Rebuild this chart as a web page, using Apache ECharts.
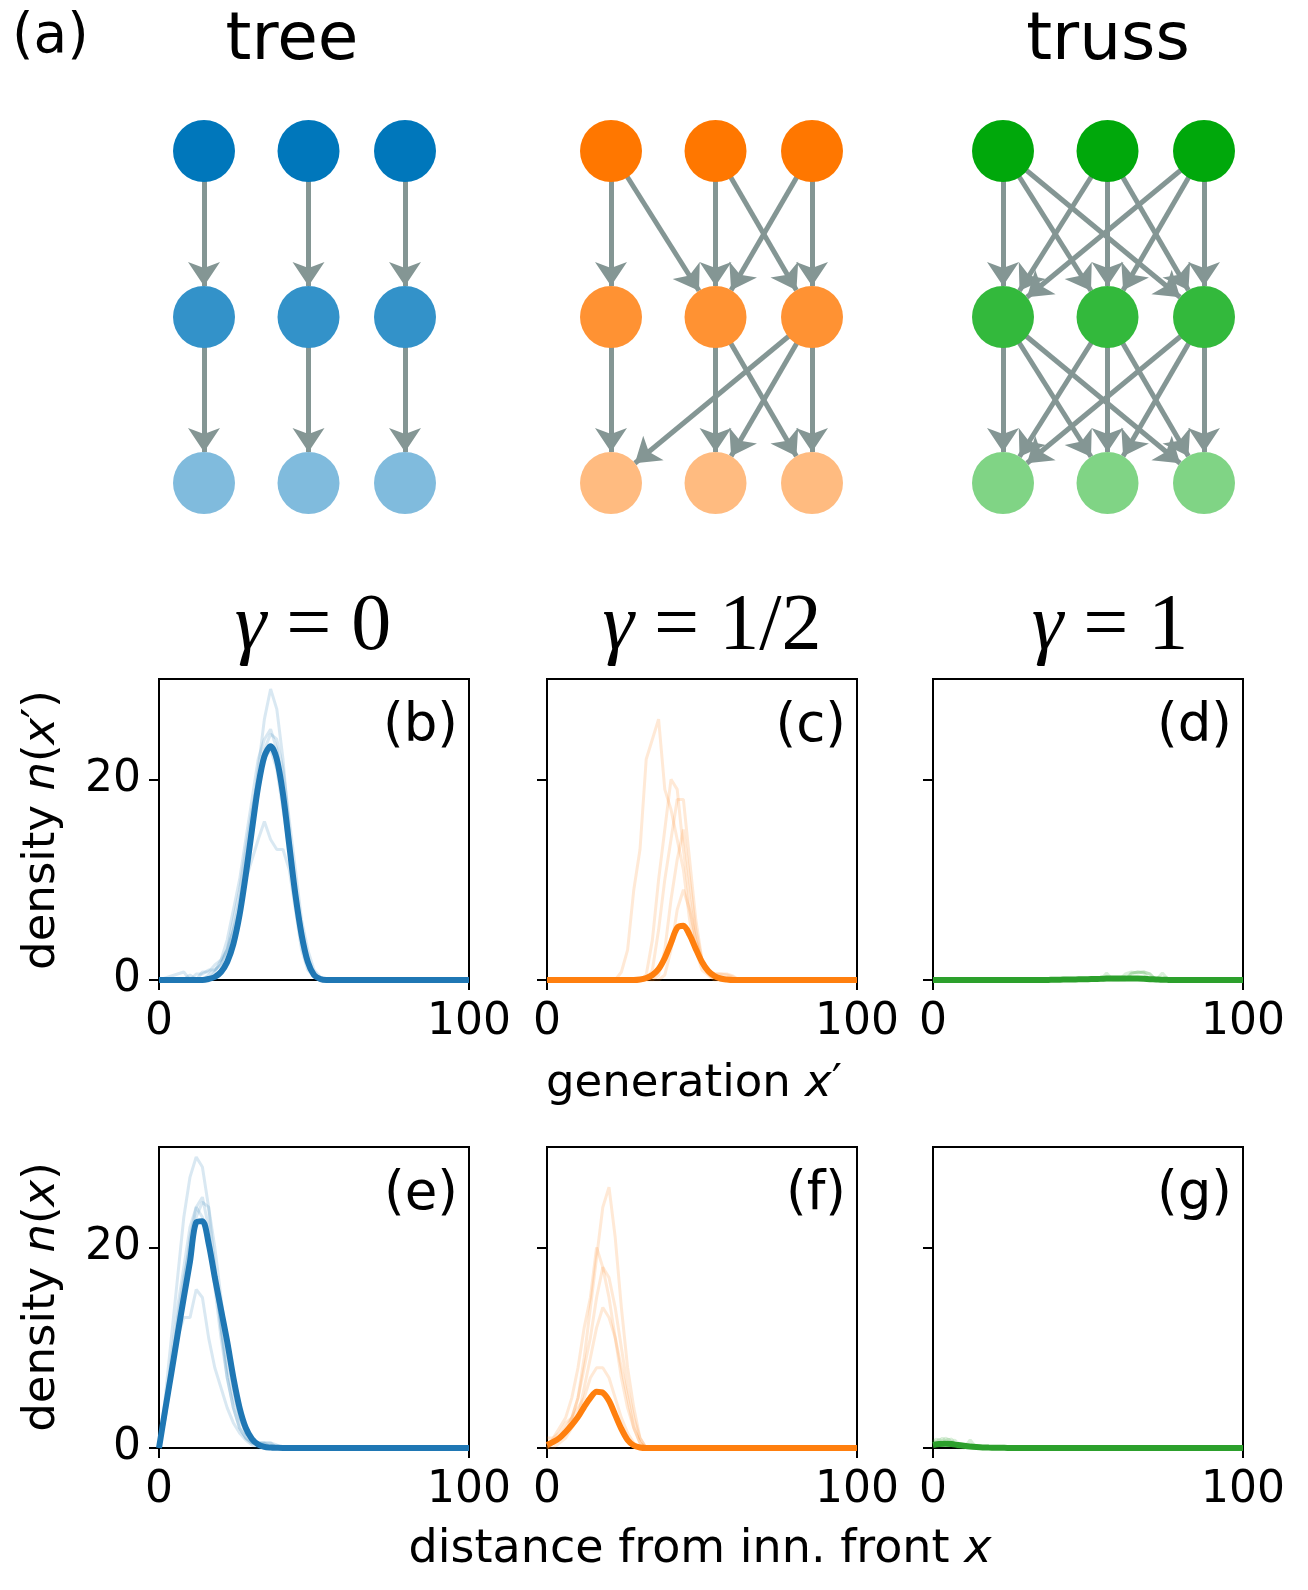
<!DOCTYPE html>
<html><head><meta charset="utf-8">
<script src="https://cdn.jsdelivr.net/npm/echarts@6/dist/echarts.min.js"></script>
<style>html,body{margin:0;padding:0;background:#fff}#c{width:1308px;height:1590px}</style>
</head><body><div id="c"></div>
<script>
// ---------- DATA ----------
const xsMain = [0,2,4,6,8,10,12,14,16,18,20,22,24,26,28,30,32,34,36,38,40,42,44,46,48,50,52,54,56,58,60,62,64,66,68,70,72,74,76,78,80,82,84,86,88,90,92,94,96,98,100];
const mainB = [0,0,0,0,0,0,0,0, 0.1,0.3,0.8,1.8,3.6,6.5,10.5,15.0,19.3,22.3,23.3,22.0,18.5,13.5,8.5,4.5,1.8,0.5,0.1, 0,0,0,0,0,0,0,0,0,0,0,0, 0,0,0,0,0,0,0,0,0,0,0,0];
const mainC = [0,0,0,0,0,0,0,0,0,0,0,0,0,0,0, 0.05,0.2,0.5,1.1,2.2,3.7,5.2,5.4,4.5,3.1,1.8,0.9,0.4,0.15,0.05, 0,0,0,0,0,0,0,0,0,0,0, 0,0,0,0,0,0,0,0,0,0];
const mainD = [0,0,0,0,0,0,0,0,0,0,0,0,0,0,0,0,0,0,0, 0.02,0.03,0.04,0.05,0.06,0.07,0.08,0.1,0.12,0.14,0.15,0.16,0.16,0.16,0.15,0.12,0.08,0.05,0.02,0.01, 0,0,0,0,0,0,0,0,0,0,0,0];
const mainE = [0,3.8,7.5,11.3,15.0,18.6,22.5,22.6,20.4,17.0,13.8,10.6,7.0,4.0,2.0,0.9,0.35,0.12,0.05,0.02, 0,0,0,0,0,0,0,0,0,0,0,0,0,0,0,0, 0,0,0,0,0,0,0,0,0,0,0,0,0,0,0];
const mainF = [0.3,0.6,1.0,1.6,2.3,3.1,4.1,5.0,5.6,5.5,4.7,3.3,1.9,0.8,0.25,0.05, 0,0,0,0,0,0,0,0,0,0,0,0,0,0,0,0,0,0, 0,0,0,0,0,0,0,0,0,0,0,0,0,0,0,0,0];
const mainG = [0.3,0.4,0.42,0.4,0.3,0.22,0.15,0.1,0.06,0.04,0.03,0.02,0.01, 0,0,0,0,0,0,0,0,0,0,0,0,0,0,0,0,0,0,0, 0,0,0,0,0,0,0,0,0,0,0,0,0,0,0,0,0,0,0];

const xsB = [0,8,10,12,14,16,18,20,22,24,26,28,30,32,34,36,38,40,42,44,46,48,50,52,54,100];
const fB1 = [0,0,0,0,0,0,0.3,1,2,4,7,11,16,21,26,29,27,22,15,8,4,1.5,0.5,0,0,0];
const fB2 = [0,0,0,0.6,0.6,1,1,1.6,3,5,7,10,12,14,15.8,14,13,13,11,7,3,1,0.3,0,0,0];
const fB3 = [0,0.8,0,0,0.8,0.8,1.5,2,4,7,10,14,18,22,24,25,23,19,14,9,5,2,0.8,0,0,0];
const fB4 = [0,0,0,0,0,0.5,1,1.5,3,5,8,12,16,20,23,24.5,24,21,16,11,6,3,1,0.3,0,0];
const fB5 = [0,0,0.5,0,0,0,0.8,2,3,6,9,13,17,20,22,23,21,17,13,8,4,2,0.5,0,0,0];

const xsC = [0,22,24,26,28,30,32,34,36,38,40,42,44,46,48,50,52,54,56,58,60,62,100];
const fC1 = [0,0,0.8,3,9,13,22,24,26,19,17,14,11,6,3,1,0.5,0,0,0,0,0,0];
const fC2 = [0,0,0,0,0,0,0.5,4,10,15,20,19,13,8,4,2,0.8,0.6,0.3,0,0,0,0];
const fC3 = [0,0,0,0,0,0,0,1,5,10,14,18,18,12,6,2,0.7,0.6,0.6,0.6,0.4,0,0];
const fC4 = [0,0,0,0,0,0,0,0,0.5,3,8,12,15,10,5,2,1,0.6,0.6,0.5,0.3,0,0];
const fC5 = [0,0,0,0,0,0,0,0,0,0.5,3,7,9,7,4,1.5,0.6,0,0,0,0,0,0];

const xsD = [0,52,54,56,58,60,62,64,66,68,70,72,74,76,78,100];
const fD1 = [0,0,0,0.7,0,0,0,0.7,0.8,0.7,0,0,0,0,0,0];
const fD2 = [0,0,0,0,0,0,0,0.6,0.8,0.8,0.6,0,0.7,0,0,0];
const fD3 = [0,0,0,0,0,0,0.6,0.8,0.7,0.8,0.6,0,0,0,0,0];

const xsE = [0,2,4,6,8,10,12,14,16,18,20,22,24,26,28,30,32,34,36,38,40,42,100];
const fE1 = [0,5,11,17,23,27,29,28,24,18,12,7,4,2,1,0.5,0.5,0.5,0,0,0,0,0];
const fE2 = [0,3,7,11,13,13,15.8,15,11,8,6,4,2.5,1.5,0.8,0.3,0,0,0,0,0,0,0];
const fE3 = [0,4,8,13,17,20,23,24.5,24,20,15,10,6,3,1.5,0.8,0.5,0.5,0.5,0.3,0,0,0];
const fE4 = [0,3,8,12,16,21,24,25,22,17,12,8,5,3,1.5,0.6,0.3,0,0,0,0,0,0];
const fE5 = [0,4,9,14,18,22,24,23,21,16,11,7,4,2,1,0.5,0.5,0.5,0.5,0,0,0,0];

const xsF = [0,2,4,6,8,10,12,14,16,18,20,22,24,26,28,30,32,100];
const fF1 = [0,0.5,1,2,3,5,9,14,19,24,26,21,14,8,4,1,0,0];
const fF2 = [0,1,2,3,5,8,12,15,20,18,15,11,7,4,2,0.5,0,0];
const fF3 = [0,0.5,1,1.5,3,5,8,11,15,18,17,14,10,6,3,1,0,0];
const fF4 = [0,0,0.5,1,2,3,6,9,12,14,13,11,8,5,2,0.5,0,0];
const fF5 = [1,1,1.5,2.5,3,4,5,7,8,8,7,5,3,1.5,0.5,0,0,0];

const xsG = [0,1,2,3,4,5,6,7,8,10,12,14,100];
const fG1 = [0.8,0.5,0.9,0.6,1.0,0.8,0.9,0.3,0,0,0.8,0,0];
const fG2 = [0.6,0.9,0.7,1.0,0.7,0.9,0.6,0.8,0.5,0,0,0,0];

const xTicks = [0,100];
const yTicks = [0,20];
const panelLetters = ['(b)','(c)','(d)','(e)','(f)','(g)'];
const graphTitles = ['tree','truss'];

// graph structure: node = [column, layer]
const columns = [0,1.04,2];
const layers = [0,1,2];
const treeLinks = [[0,0],[1,1],[2,2]];
const halfLinksTop = [[0,0],[0,1],[1,1],[1,2],[2,1],[2,2]];
const halfLinksBot = [[0,0],[1,1],[1,2],[2,0],[2,1],[2,2]];
const fullLinks = [[0,0],[0,1],[0,2],[1,0],[1,1],[1,2],[2,0],[2,1],[2,2]];

// ---------- STYLE / LAYOUT ----------
const FONT = 'DejaVu Sans';
const blue = '#1f77b4', orange = '#ff7f0e', green = '#2ca02c';
const nodeTop = ['#0077bb','#ff7700','#00a80b'];
const layerAlpha = [1, 0.8, 0.5];
const edgeColor = '#849694';
function mix(hex, a){
  const r=parseInt(hex.slice(1,3),16), g=parseInt(hex.slice(3,5),16), b=parseInt(hex.slice(5,7),16);
  const f=v=>Math.round(v*a+255*(1-a));
  return 'rgb('+f(r)+','+f(g)+','+f(b)+')';
}
function rgba(hex,a){
  const r=parseInt(hex.slice(1,3),16), g=parseInt(hex.slice(3,5),16), b=parseInt(hex.slice(5,7),16);
  return 'rgba('+r+','+g+','+b+','+a+')';
}

const colLeft = [159, 547, 933];
const rowTop = [679, 1147];
const PW = 310, PH = 301;
const graphLeft = [204, 611, 1003];
const graphW = 201, graphTop = 151, graphH = 332;

const grids = [], xAxes = [], yAxes = [], series = [], graphic = [];

const graphLinkSets = [
  [treeLinks, treeLinks],
  [halfLinksTop, halfLinksBot],
  [fullLinks, fullLinks]
];
for (let g = 0; g < 3; g++) {
  grids.push({left: graphLeft[g], top: graphTop, width: graphW, height: graphH, show: false});
  xAxes.push({type:'value', gridIndex:g, min:0, max:2, show:false});
  yAxes.push({type:'value', gridIndex:g, min:0, max:2, inverse:true, show:false});
  const nodes = [];
  layers.forEach(l => columns.forEach((c, ci) => {
    nodes.push({name: g+'_'+l+'_'+ci, value:[c,l], itemStyle:{color: mix(nodeTop[g], layerAlpha[l])}});
  }));
  const links = [];
  graphLinkSets[g].forEach((set, li) => {
    set.forEach(([s,t]) => links.push({source: g+'_'+li+'_'+s, target: g+'_'+(li+1)+'_'+t}));
  });
  series.push({
    type:'graph', coordinateSystem:'cartesian2d', xAxisIndex:g, yAxisIndex:g,
    layout:'none', symbol:'circle', symbolSize:62, roam:false, silent:true,
    edgeSymbol:['none','arrow'], edgeSymbolSize:[0,24],
    lineStyle:{color:edgeColor, width:5, opacity:1, curveness:0},
    label:{show:false}, emphasis:{disabled:true},
    data:nodes, links:links, z:3
  });
}

const panels = [
  {main: mainB, color: blue, faint: [[xsB,fB1],[xsB,fB2],[xsB,fB3],[xsB,fB4],[xsB,fB5]]},
  {main: mainC, color: orange, faint: [[xsC,fC1],[xsC,fC2],[xsC,fC3],[xsC,fC4],[xsC,fC5]]},
  {main: mainD, color: green, faint: [[xsD,fD1],[xsD,fD2],[xsD,fD3]]},
  {main: mainE, color: blue, faint: [[xsE,fE1],[xsE,fE2],[xsE,fE3],[xsE,fE4],[xsE,fE5]]},
  {main: mainF, color: orange, faint: [[xsF,fF1],[xsF,fF2],[xsF,fF3],[xsF,fF4],[xsF,fF5]]},
  {main: mainG, color: green, faint: [[xsG,fG1],[xsG,fG2]]}
];
panels.forEach((p, k) => {
  const row = Math.floor(k/3), col = k%3, gi = 3 + k;
  grids.push({left: colLeft[col], top: rowTop[row], width: PW, height: PH, show:true,
    borderColor:'#000', borderWidth:2, backgroundColor:'transparent'});
  xAxes.push({type:'value', gridIndex:gi, min:0, max:100,
    axisLine:{show:true, onZero:false, lineStyle:{color:'#000', width:2}},
    axisTick:{show:true, length:10, lineStyle:{color:'#000', width:2}, customValues:xTicks},
    axisLabel:{show:true, customValues:xTicks, color:'#000', fontSize:44, fontFamily:FONT, margin:21},
    splitLine:{show:false}});
  yAxes.push({type:'value', gridIndex:gi, min:0, max:30,
    axisLine:{show:true, onZero:false, lineStyle:{color:'#000', width:2}},
    axisTick:{show:true, length:10, lineStyle:{color:'#000', width:2}, customValues:yTicks},
    axisLabel:{show: col===0, customValues:yTicks, color:'#000', fontSize:44, fontFamily:FONT, margin:18},
    splitLine:{show:false}});
  p.faint.forEach(([xs, ys]) => {
    series.push({type:'line', xAxisIndex:gi, yAxisIndex:gi, showSymbol:false, silent:true,
      data: xs.map((x,i)=>[x, ys[i]]),
      lineStyle:{color: rgba(p.color, 0.17), width:3}, z:2});
  });
  series.push({type:'line', xAxisIndex:gi, yAxisIndex:gi, showSymbol:false, silent:true, smooth:0.3,
    data: xsMain.map((x,i)=>[x, p.main[i]]),
    lineStyle:{color: p.color, width:6}, z:4});
  graphic.push({type:'text', x: colLeft[col]+PW-11, y: rowTop[row]+48,
    style:{text: panelLetters[k], fill:'#000', fontSize:53, fontFamily:FONT, align:'right', verticalAlign:'middle'}});
});

graphic.push({type:'text', x:12, y:38, style:{text:'(a)', fill:'#000', fontSize:55, fontFamily:FONT, align:'left', verticalAlign:'middle'}});
graphic.push({type:'text', x:292, y:42, style:{text:graphTitles[0], fill:'#000', fontSize:66, fontFamily:FONT, align:'center', verticalAlign:'middle'}});
graphic.push({type:'text', x:1108, y:42, style:{text:graphTitles[1], fill:'#000', fontSize:66, fontFamily:FONT, align:'center', verticalAlign:'middle'}});
const gammaX = [313, 712, 1110];
const gammaTxt = ['{g|γ} = 0', '{g|γ} = 1/2', '{g|γ} = 1'];
gammaTxt.forEach((t,i) => {
  graphic.push({type:'text', x:gammaX[i], y:628, style:{text:t, fill:'#000', fontSize:80, fontFamily:'Liberation Serif',
    align:'center', verticalAlign:'middle', rich:{g:{fontStyle:'italic', fontSize:80, fontFamily:'Liberation Serif'}}}});
});
const rlab = {r:{fontSize:45, fontFamily:FONT}, i:{fontSize:45, fontFamily:FONT, fontStyle:'italic'}};
const rlab2 = {r:{fontSize:46, fontFamily:FONT}, i:{fontSize:46, fontFamily:FONT, fontStyle:'italic'}};
graphic.push({type:'text', x:42, y:830, rotation:Math.PI/2,
  style:{text:'{r|density }{i|n}{r|(}{i|x}{r|′)}', fill:'#000', align:'center', verticalAlign:'middle', rich:rlab}});
graphic.push({type:'text', x:42, y:1297, rotation:Math.PI/2,
  style:{text:'{r|density }{i|n}{r|(}{i|x}{r|)}', fill:'#000', align:'center', verticalAlign:'middle', rich:rlab}});
graphic.push({type:'text', x:694, y:1084,
  style:{text:'{r|generation }{i|x}{r|′}', fill:'#000', align:'center', verticalAlign:'middle', rich:rlab}});
graphic.push({type:'text', x:700, y:1550,
  style:{text:'{r|distance from inn. front }{i|x}', fill:'#000', align:'center', verticalAlign:'middle', rich:rlab2}});

const chart = echarts.init(document.getElementById('c'), null, {renderer:'canvas'});
chart.setOption({
  animation:false, backgroundColor:'#fff',
  grid: grids, xAxis: xAxes, yAxis: yAxes, series: series, graphic: graphic
});
</script></body></html>
